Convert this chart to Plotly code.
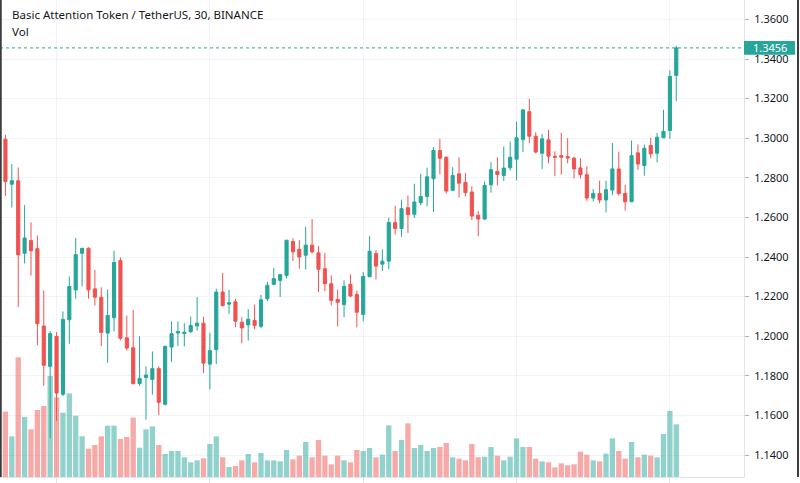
import plotly.graph_objects as go

TITLE = 'Basic Attention Token / TetherUS, 30, BINANCE'
LAST_PRICE = 1.3456
UP = '#26a69a'
DOWN = '#ef5350'

# 30 minute candles, one entry per bar
open_ = [
    1.2995, 1.2768, 1.2785, 1.2419, 1.2483, 1.2442, 1.2051, 1.1848, 1.1999, 1.1707,
    1.2083, 1.2234, 1.2419, 1.2444, 1.2239, 1.2197, 1.2016, 1.2093, 1.2382, 1.1992,
    1.1942, 1.1761, 1.1791, 1.1782, 1.1836, 1.1656, 1.1945, 1.2016, 1.2013, 1.2023,
    1.2052, 1.2066, 1.1859, 1.1932, 1.2223, 1.2162, 1.2174, 1.2071, 1.2057, 1.2079,
    1.2050, 1.2189, 1.2262, 1.2282, 1.2307, 1.2478, 1.2439, 1.2409, 1.2460, 1.2421,
    1.2341, 1.2265, 1.2186, 1.2160, 1.2262, 1.2211, 1.2110, 1.2300, 1.2418, 1.2364,
    1.2379, 1.2574, 1.2544, 1.2649, 1.2616, 1.2674, 1.2706, 1.2795, 1.2938, 1.2904,
    1.2737, 1.2820, 1.2777, 1.2728, 1.2611, 1.2592, 1.2765, 1.2832, 1.2812, 1.2851,
    1.2894, 1.2993, 1.3134, 1.3010, 1.2924, 1.2992, 1.2909, 1.2912, 1.2907, 1.2899,
    1.2850, 1.2816, 1.2698, 1.2721, 1.2688, 1.2738, 1.2845, 1.2721, 1.2679, 1.2926,
    1.2862, 1.2963, 1.2924, 1.3002, 1.3039, 1.3317,
]
high = [
    1.3017, 1.2869, 1.2852, 1.2662, 1.2575, 1.2508, 1.2231, 1.2026, 1.2021, 1.2125,
    1.2301, 1.2496, 1.2446, 1.2449, 1.2335, 1.2247, 1.2236, 1.2432, 1.2398, 1.2105,
    1.2133, 1.2000, 1.1848, 1.1923, 1.1848, 1.1952, 1.2075, 1.2075, 1.2066, 1.2099,
    1.2198, 1.2099, 1.2017, 1.2240, 1.2319, 1.2235, 1.2189, 1.2096, 1.2137, 1.2160,
    1.2209, 1.2274, 1.2345, 1.2311, 1.2485, 1.2495, 1.2485, 1.2553, 1.2592, 1.2455,
    1.2421, 1.2307, 1.2235, 1.2282, 1.2313, 1.2231, 1.2324, 1.2505, 1.2435, 1.2438,
    1.2599, 1.2659, 1.2690, 1.2711, 1.2770, 1.2820, 1.2851, 1.2955, 1.2997, 1.2908,
    1.2854, 1.2904, 1.2825, 1.2757, 1.2631, 1.2782, 1.2879, 1.2904, 1.2958, 1.2983,
    1.3084, 1.3148, 1.3198, 1.3030, 1.3022, 1.3042, 1.2934, 1.3027, 1.3000, 1.2907,
    1.2899, 1.2858, 1.2743, 1.2786, 1.2786, 1.2976, 1.2932, 1.2765, 1.2988, 1.2968,
    1.2968, 1.3002, 1.3027, 1.3143, 1.3343, 1.3466,
]
low = [
    1.2709, 1.2650, 1.2147, 1.2368, 1.2306, 1.1954, 1.1749, 1.1484, 1.1572, 1.1697,
    1.1962, 1.2189, 1.2252, 1.2189, 1.2155, 1.1950, 1.1866, 1.2024, 1.1979, 1.1928,
    1.1755, 1.1749, 1.1579, 1.1705, 1.1601, 1.1650, 1.1870, 1.1950, 1.1949, 1.2015,
    1.2028, 1.1815, 1.1731, 1.1859, 1.2150, 1.2113, 1.2045, 1.1964, 1.1978, 1.2035,
    1.2042, 1.2177, 1.2257, 1.2198, 1.2291, 1.2380, 1.2341, 1.2336, 1.2417, 1.2223,
    1.2228, 1.2155, 1.2050, 1.2096, 1.2198, 1.2045, 1.2076, 1.2300, 1.2287, 1.2329,
    1.2339, 1.2513, 1.2502, 1.2522, 1.2597, 1.2661, 1.2656, 1.2627, 1.2817, 1.2720,
    1.2737, 1.2700, 1.2706, 1.2586, 1.2505, 1.2586, 1.2725, 1.2762, 1.2784, 1.2837,
    1.2787, 1.2930, 1.2975, 1.2924, 1.2845, 1.2873, 1.2808, 1.2816, 1.2873, 1.2797,
    1.2797, 1.2684, 1.2681, 1.2671, 1.2625, 1.2713, 1.2710, 1.2634, 1.2679, 1.2840,
    1.2811, 1.2899, 1.2878, 1.3002, 1.2997, 1.3187,
]
close = [
    1.2781, 1.2785, 1.2411, 1.2496, 1.2432, 1.2063, 1.1853, 1.2013, 1.1713, 1.2085,
    1.2251, 1.2412, 1.2444, 1.2234, 1.2197, 1.2019, 1.2105, 1.2373, 1.1990, 1.1940,
    1.1761, 1.1787, 1.1804, 1.1836, 1.1666, 1.1949, 1.2013, 1.2024, 1.2020, 1.2054,
    1.2066, 1.1864, 1.1927, 1.2223, 1.2155, 1.2169, 1.2076, 1.2042, 1.2086, 1.2055,
    1.2184, 1.2257, 1.2291, 1.2311, 1.2485, 1.2426, 1.2400, 1.2460, 1.2426, 1.2338,
    1.2265, 1.2181, 1.2172, 1.2252, 1.2203, 1.2121, 1.2302, 1.2429, 1.2354, 1.2379,
    1.2574, 1.2544, 1.2644, 1.2614, 1.2678, 1.2706, 1.2805, 1.2938, 1.2899, 1.2733,
    1.2812, 1.2773, 1.2725, 1.2607, 1.2592, 1.2762, 1.2841, 1.2817, 1.2849, 1.2904,
    1.3002, 1.3143, 1.3010, 1.2930, 1.2997, 1.2909, 1.2904, 1.2904, 1.2900, 1.2845,
    1.2816, 1.2698, 1.2721, 1.2688, 1.2740, 1.2845, 1.2721, 1.2679, 1.2912, 1.2870,
    1.2949, 1.2921, 1.3005, 1.3035, 1.3312, 1.3456,
]
# volume, thousands of BAT
volume = [
    196, 122, 359, 180, 143, 201, 213, 303, 239, 193,
    251, 184, 122, 85, 96, 122, 154, 154, 114, 120,
    178, 88, 143, 152, 96, 69, 78, 78, 59, 44,
    50, 56, 99, 122, 59, 30, 33, 50, 69, 44,
    72, 50, 50, 47, 81, 53, 64, 105, 59, 111,
    64, 38, 64, 50, 44, 81, 78, 87, 59, 67,
    155, 78, 111, 161, 87, 96, 78, 87, 90, 102,
    59, 55, 50, 99, 59, 61, 90, 64, 50, 61,
    116, 90, 90, 55, 47, 44, 29, 41, 35, 38,
    76, 67, 50, 47, 70, 116, 78, 55, 105, 59,
    67, 64, 59, 129, 198, 158,
]

bars = list(range(len(close)))
vol_colors = ['rgba(38,166,154,0.5)' if c >= o else 'rgba(239,83,80,0.5)'
              for o, c in zip(open_, close)]

fig = go.Figure()

fig.add_trace(go.Bar(
    x=bars, y=volume,
    marker=dict(color=vol_colors, line=dict(width=0)),
    yaxis='y', hoverinfo='skip', showlegend=False,
))

fig.add_trace(go.Candlestick(
    x=bars, open=open_, high=high, low=low, close=close,
    increasing=dict(line=dict(color=UP, width=1), fillcolor=UP),
    decreasing=dict(line=dict(color=DOWN, width=1), fillcolor=DOWN),
    whiskerwidth=0, yaxis='y2', showlegend=False,
))

fig.update_layout(
    width=800, height=483,
    margin=dict(l=0, r=56, t=0, b=6),
    paper_bgcolor='white', plot_bgcolor='white',
    bargap=0.17, boxgap=0.3,
    font=dict(family='Noto Sans', size=12, color='#131722'),
    xaxis=dict(
        range=[-0.85, 115.6],
        rangeslider=dict(visible=False),
        tickvals=[8, 32, 56, 80, 104],
        showticklabels=False,
        showgrid=True, gridcolor='#f0f3fa', gridwidth=1,
        ticks='outside', ticklen=6, tickcolor='#e0e3eb',
        showline=True, linecolor='#e0e3eb', linewidth=1,
        zeroline=False,
    ),
    yaxis=dict(
        range=[0, 1431], visible=False, showgrid=False, zeroline=False,
    ),
    yaxis2=dict(
        overlaying='y', side='right',
        range=[1.1289, 1.3698],
        dtick=0.02, tick0=1.14, tickformat='.4f',
        showgrid=True, gridcolor='#f0f3fa', gridwidth=1,
        ticks='outside', ticklen=4, tickcolor='#b2b5be',
        ticklabelstandoff=3,
        tickfont=dict(family='Noto Sans', size=11, color='#131722'),
        showline=True, linecolor='#e0e3eb', linewidth=1,
        zeroline=False,
    ),
)

# last price line and label
fig.add_shape(type='line', xref='paper', yref='y2', x0=0, x1=1,
              y0=LAST_PRICE, y1=LAST_PRICE,
              line=dict(color=UP, width=1, dash='dot'))
fig.add_shape(type='rect', xref='paper', yref='y2', x0=1.0, x1=1.0685,
              y0=LAST_PRICE - 0.0035, y1=LAST_PRICE + 0.0035,
              fillcolor=UP, line=dict(width=0), layer='above')
fig.add_annotation(xref='paper', yref='y2', x=1.0343, y=LAST_PRICE,
                   text=f'{LAST_PRICE:.4f}', showarrow=False,
                   xanchor='center', yanchor='middle',
                   font=dict(family='Noto Sans', size=11, color='white'))

# frame edges
fig.add_shape(type='line', xref='paper', yref='paper', x0=0.001, x1=0.001,
              y0=0, y1=1, line=dict(color='#3c3c3c', width=2))
fig.add_shape(type='line', xref='paper', yref='paper', x0=1.0726, x1=1.0726,
              y0=0, y1=1, line=dict(color='#3c3c3c', width=2))

# legend text in the top left
fig.add_annotation(xref='paper', yref='paper', x=0.013, y=1 - 15 / 477,
                   text=TITLE, showarrow=False, xanchor='left', yanchor='middle',
                   font=dict(family='Noto Sans', size=11.5, color='#131722'))
fig.add_annotation(xref='paper', yref='paper', x=0.013, y=1 - 31 / 477,
                   text='Vol', showarrow=False, xanchor='left', yanchor='middle',
                   font=dict(family='Noto Sans', size=11.5, color='#131722'))

# the page has a default body margin; drop it so the figure sits at 0,0
fig.write_html('out.html', config={'displayModeBar': False},
               post_script="document.body.style.margin='0';")
